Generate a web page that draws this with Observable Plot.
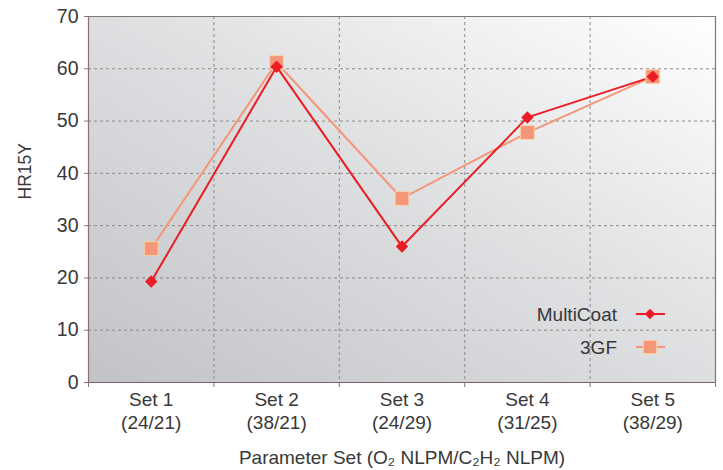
<!DOCTYPE html>
<html><head><meta charset="utf-8">
<script src="https://cdn.jsdelivr.net/npm/d3@7"></script>
<script src="https://cdn.jsdelivr.net/npm/@observablehq/plot@0.6"></script>
<style>body{margin:0;background:#fff;font-family:"Liberation Sans",Arial,sans-serif}</style>
</head><body><div id="chart"></div>
<script>
const categories = ["Set 1\n(24/21)", "Set 2\n(38/21)", "Set 3\n(24/29)", "Set 4\n(31/25)", "Set 5\n(38/29)"];
const multiCoat = [19.3, 60.4, 26.0, 50.7, 58.5];
const gf3 = [25.6, 61.2, 35.2, 47.8, 58.5];
const yTicks = [0, 10, 20, 30, 40, 50, 60, 70];
const seriesNames = ["MultiCoat", "3GF"];
const yLabel = "HR15Y";
const xLabel = "Parameter Set (O\u2082 NLPM/C\u2082H\u2082 NLPM)";

const redC = "#ec1c24", salmon = "#f5967a", salmonEdge = "#fcd3a4", textC = "#383838";
const rowsM = multiCoat.map((v, i) => ({x: i + 1, y: v}));
const rowsG = gf3.map((v, i) => ({x: i + 1, y: v}));
const idx = categories.map((c, i) => i + 1);
const bounds = [...idx.map(i => i - 0.5), categories.length + 0.5];
const inner = bounds.slice(1, -1);
const gridY = yTicks.slice(1, -1);

function legendMark(index, scales, values, dims) {
  const g = d3.create("svg:g");
  const right = dims.width - dims.marginRight, bottom = dims.height - dims.marginBottom;
  const styles = [
    {color: redC, sym: d3.symbolDiamond2, size: 70, stroke: "none"},
    {color: salmon, sym: d3.symbolSquare, size: 180, stroke: salmonEdge}
  ];
  seriesNames.forEach((name, i) => {
    const cy = bottom - 68 + i * 33;
    g.append("text").attr("x", right - 98).attr("y", cy).attr("dy", "0.35em")
      .attr("text-anchor", "end").attr("font-size", 19).attr("fill", textC).text(name);
    g.append("line").attr("x1", right - 79).attr("x2", right - 50).attr("y1", cy).attr("y2", cy)
      .attr("stroke", styles[i].color).attr("stroke-width", 2);
    g.append("path").attr("d", d3.symbol(styles[i].sym, styles[i].size)())
      .attr("transform", `translate(${right - 65},${cy})`)
      .attr("fill", styles[i].color).attr("stroke", styles[i].stroke).attr("stroke-width", 1);
  });
  return g.node();
}

const chart = Plot.plot({
  width: 723, height: 470,
  marginLeft: 88, marginRight: 8, marginTop: 16, marginBottom: 88,
  style: {fontFamily: "'Liberation Sans', Arial, sans-serif", color: textC, background: "#fff"},
  x: {domain: [0.5, categories.length + 0.5]},
  y: {domain: [0, 70]},
  marks: [
    Plot.frame({fill: "url(#bggrad)", stroke: "none"}),
    Plot.gridY(gridY, {stroke: "#8a8a8a", strokeOpacity: 1, strokeDasharray: "3,3", strokeWidth: 1}),
    Plot.ruleX(inner, {stroke: "#8a8a8a", strokeDasharray: "3,3", strokeWidth: 1}),
    Plot.ruleX([bounds[0], bounds[bounds.length - 1]], {stroke: "#8c7078", strokeWidth: 1.2}),
    Plot.ruleY([70], {stroke: "#7a7a7a", strokeWidth: 1.2}),
    Plot.ruleY([0], {stroke: "#7a5f66", strokeWidth: 1.2}),
    Plot.axisY({ticks: yTicks, tickSize: 4, tickPadding: 6, fontSize: 19.5, label: null, stroke: "#8c7078"}),
    Plot.axisX({ticks: bounds, tickSize: 5, tickFormat: () => "", label: null, stroke: "#8c7078"}),
    Plot.axisX({ticks: idx, tickSize: 0, tickPadding: 6, fontSize: 19, lineHeight: 1.26,
      tickFormat: i => categories[i - 1], label: null}),
    Plot.line(rowsG, {x: "x", y: "y", stroke: salmon, strokeWidth: 2}),
    Plot.line(rowsM, {x: "x", y: "y", stroke: redC, strokeWidth: 2}),
    Plot.dot(rowsG, {x: "x", y: "y", symbol: "square", r: 7.8, fill: salmon, stroke: salmonEdge, strokeWidth: 1}),
    Plot.dot(rowsM, {x: "x", y: "y", symbol: "diamond2", r: 5.6, fill: redC, stroke: "none"}),
    legendMark,
    Plot.text([yLabel], {frameAnchor: "left", dx: -63, rotate: -90, fontSize: 17.5, fill: textC}),
    Plot.text([xLabel], {frameAnchor: "bottom", dy: 81, fontSize: 19, fill: textC})
  ]
});

const ns = "http://www.w3.org/2000/svg";
const defs = document.createElementNS(ns, "defs");
defs.innerHTML = `<linearGradient id="bggrad" x1="0" y1="1" x2="1" y2="0">
  <stop offset="0" stop-color="#c2c3c6"/>
  <stop offset="0.55" stop-color="#e0e1e3"/>
  <stop offset="1" stop-color="#ffffff"/>
</linearGradient>`;
chart.insertBefore(defs, chart.firstChild);
document.getElementById("chart").appendChild(chart);
</script>
</body></html>
